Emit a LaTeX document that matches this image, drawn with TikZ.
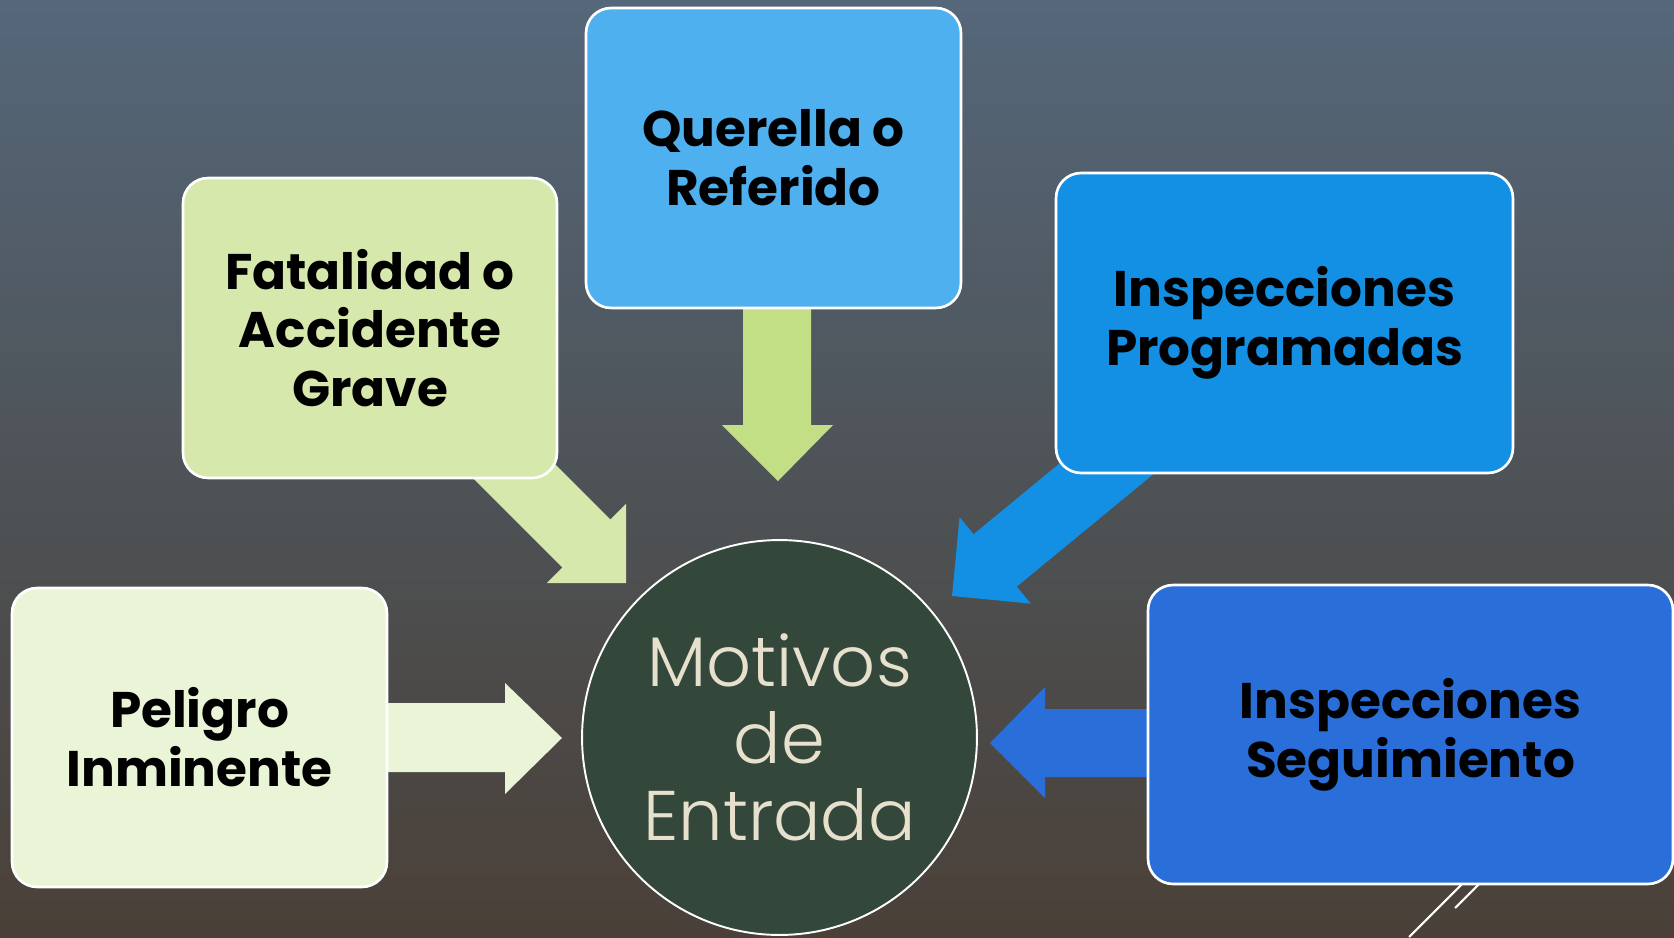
\documentclass[tikz,border=0pt]{standalone}
\usepackage{fontspec}
\setmainfont{Poppins}
\newfontfamily\lightfont{Poppins Light}
\definecolor{bgtop}{HTML}{55677A}
\definecolor{bgmid}{HTML}{4E5357}
\definecolor{bgbot}{HTML}{4A4038}
\definecolor{querella}{HTML}{4FB0EF}
\definecolor{fatal}{HTML}{D7E8AD}
\definecolor{downarr}{HTML}{C2DF86}
\definecolor{progr}{HTML}{1390E4}
\definecolor{segui}{HTML}{296ED9}
\definecolor{peligro}{HTML}{EAF5D8}
\definecolor{circ}{HTML}{33473B}
\definecolor{circtext}{HTML}{E6E0CC}
\begin{document}
\begin{tikzpicture}[x=0.02cm,y=-0.02cm,
  box/.style={draw=white, line width=1.5pt, rounded corners=0.5cm, align=center,
    font=\fontsize{28.5}{33.5}\selectfont\bfseries, text=black, minimum height=6cm, inner sep=0pt},
  deco/.style={white, line width=1.2pt}]
\useasboundingbox (0,0) rectangle (1674,937);
\shade[top color=bgtop, bottom color=bgbot, middle color=bgmid] (0,0) rectangle (1674,937);
% decorative lines
\draw[deco] (1480,866) -- (1409,937);
\draw[deco] (1495,868) -- (1455,908);
% block arrows
\fill[downarr] (743,300) -- (811,300) -- (811,425) -- (833,425) -- (778,481) -- (722,425) -- (743,425) -- cycle;
\fill[fatal] (514,423) -- (610.4,519.4) -- (626,503.8) -- (626,583) -- (546.8,583) -- (562.4,567.4) -- (466,471) -- cycle;
\fill[progr] (1163.5,465.8) -- (1016.8,586.6) -- (1030.8,603.6) -- (952,596) -- (959.6,517.2) -- (973.6,534.2) -- (1120.3,413.4) -- cycle;
\fill[peligro] (370,703) -- (505,703) -- (505,683) -- (562,738) -- (505,794) -- (505,772) -- (370,772) -- cycle;
\fill[segui] (1160,709) -- (1045,709) -- (1045,687) -- (990,743) -- (1045,798) -- (1045,777) -- (1160,777) -- cycle;
% boxes
\node[box, fill=querella, minimum width=7.5cm] (querella) at (773.5,158) {Querella o\\Referido};
\node[box, fill=fatal, minimum width=7.48cm] (fatal) at (370,328) {Fatalidad o\\Accidente\\Grave};
\node[box, fill=progr, minimum width=9.14cm] (progr) at (1284.5,323) {Inspecciones\\Programadas};
\node[box, fill=peligro, minimum width=7.5cm, minimum height=5.98cm] (peligro) at (199.5,737.5) {Peligro\\Inminente};
\node[box, fill=segui, minimum width=10.5cm, minimum height=5.98cm] (segui) at (1410.5,734.5) {Inspecciones\\Seguimiento};
% circle
\node[circle, draw=white, line width=1.1pt, fill=circ, minimum size=7.9cm, inner sep=0pt, align=center,
  text=circtext, font=\lightfont\fontsize{40}{44}\selectfont] (motivos) at (779.5,737.5) {Motivos\\de\\Entrada};
\end{tikzpicture}
\end{document}
